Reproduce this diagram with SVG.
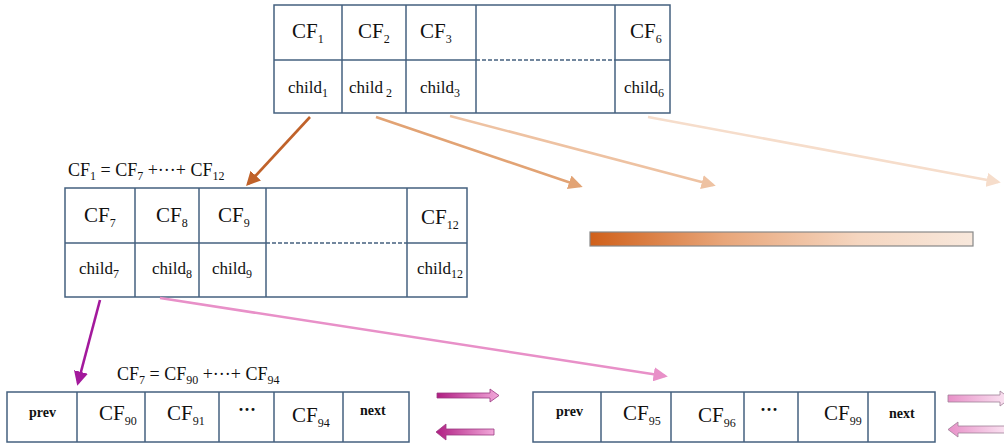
<svg xmlns="http://www.w3.org/2000/svg" width="1004" height="445" viewBox="0 0 1004 445">
<defs>
<style>
.cell{fill:#fff;stroke:#44607f;stroke-width:1.5}
.ln{stroke:#44607f;stroke-width:1.5}
.dash{stroke:#44607f;stroke-width:1.3;stroke-dasharray:4 2}
.cf{font-family:"Liberation Serif",serif;font-size:21px;fill:#111}
.ch{font-family:"Liberation Serif",serif;font-size:17px;fill:#111}
.b{font-family:"Liberation Serif",serif;font-size:14px;font-weight:bold;fill:#111}
.dots{font-family:"Liberation Serif",serif;font-size:18px;font-weight:bold;fill:#111}
.eq{font-family:"Liberation Serif",serif;font-size:18px;fill:#111}
.sub{font-size:12px}
</style>
<marker id="m1" viewBox="0 0 10 10" refX="8" refY="5" markerWidth="5.5" markerHeight="5.5" orient="auto"><path d="M0,0 L10,5 L0,10 z" fill="#c0622a"/></marker>
<marker id="m2" viewBox="0 0 10 10" refX="8" refY="5" markerWidth="5.5" markerHeight="5.5" orient="auto"><path d="M0,0 L10,5 L0,10 z" fill="#e2a374"/></marker>
<marker id="m3" viewBox="0 0 10 10" refX="8" refY="5" markerWidth="5.5" markerHeight="5.5" orient="auto"><path d="M0,0 L10,5 L0,10 z" fill="#eec2a2"/></marker>
<marker id="m4" viewBox="0 0 10 10" refX="8" refY="5" markerWidth="5.5" markerHeight="5.5" orient="auto"><path d="M0,0 L10,5 L0,10 z" fill="#f6ddcb"/></marker>
<marker id="m5" viewBox="0 0 10 10" refX="8" refY="5" markerWidth="5.5" markerHeight="5.5" orient="auto"><path d="M0,0 L10,5 L0,10 z" fill="#a3199c"/></marker>
<marker id="m6" viewBox="0 0 10 10" refX="8" refY="5" markerWidth="5.5" markerHeight="5.5" orient="auto"><path d="M0,0 L10,5 L0,10 z" fill="#e890c8"/></marker>
<linearGradient id="bar" x1="0" y1="0" x2="1" y2="0">
<stop offset="0" stop-color="#d0601a"/>
<stop offset="0.35" stop-color="#e8a67a"/>
<stop offset="0.7" stop-color="#f5d6c0"/>
<stop offset="1" stop-color="#f8e8dc"/>
</linearGradient>
<linearGradient id="pR" x1="0" y1="0" x2="1" y2="0">
<stop offset="0" stop-color="#b01e82"/>
<stop offset="1" stop-color="#f2a8da"/>
</linearGradient>
<linearGradient id="pL" x1="0" y1="0" x2="1" y2="0">
<stop offset="0" stop-color="#b01e82"/>
<stop offset="1" stop-color="#f2a8da"/>
</linearGradient>
<linearGradient id="qR" x1="0" y1="0" x2="1" y2="0">
<stop offset="0" stop-color="#e890c8"/>
<stop offset="1" stop-color="#fbe8f4"/>
</linearGradient>
<linearGradient id="qL" x1="0" y1="0" x2="1" y2="0">
<stop offset="0" stop-color="#e890c8"/>
<stop offset="1" stop-color="#fbe8f4"/>
</linearGradient>
</defs>

<g id="top-table">
<rect class="cell" x="274" y="5" width="396" height="108"/>
<line class="ln" x1="274" y1="60" x2="476" y2="60"/>
<line class="dash" x1="476" y1="60" x2="615" y2="60"/>
<line class="ln" x1="615" y1="60" x2="670" y2="60"/>
<line class="ln" x1="342" y1="5" x2="342" y2="113"/>
<line class="ln" x1="406" y1="5" x2="406" y2="113"/>
<line class="ln" x1="476" y1="5" x2="476" y2="113"/>
<line class="ln" x1="615" y1="5" x2="615" y2="113"/>
<text class="cf" x="292" y="38">CF<tspan class="sub" dy="5">1</tspan></text>
<text class="cf" x="358" y="38">CF<tspan class="sub" dy="5">2</tspan></text>
<text class="cf" x="420" y="38">CF<tspan class="sub" dy="5">3</tspan></text>
<text class="cf" x="630" y="38">CF<tspan class="sub" dy="5">6</tspan></text>
<text class="ch" x="288" y="93">child<tspan class="sub" dy="4">1</tspan></text>
<text class="ch" x="349" y="93">child<tspan class="sub" dy="4" dx="3">2</tspan></text>
<text class="ch" x="420" y="93">child<tspan class="sub" dy="4">3</tspan></text>
<text class="ch" x="624" y="93">child<tspan class="sub" dy="4">6</tspan></text>
</g>

<g id="mid-table">
<text class="eq" x="68" y="176">CF<tspan class="sub" dy="4">1</tspan><tspan dy="-4"> = CF</tspan><tspan class="sub" dy="4">7</tspan><tspan dy="-4"> +···+ CF</tspan><tspan class="sub" dy="4">12</tspan></text>
<rect class="cell" x="65" y="188" width="402" height="109"/>
<line class="ln" x1="65" y1="243" x2="266" y2="243"/>
<line class="dash" x1="266" y1="243" x2="407" y2="243"/>
<line class="ln" x1="407" y1="243" x2="467" y2="243"/>
<line class="ln" x1="135" y1="188" x2="135" y2="297"/>
<line class="ln" x1="199" y1="188" x2="199" y2="297"/>
<line class="ln" x1="266" y1="188" x2="266" y2="297"/>
<line class="ln" x1="407" y1="188" x2="407" y2="297"/>
<text class="cf" x="84" y="222">CF<tspan class="sub" dy="5">7</tspan></text>
<text class="cf" x="156" y="222">CF<tspan class="sub" dy="5">8</tspan></text>
<text class="cf" x="218" y="222">CF<tspan class="sub" dy="5">9</tspan></text>
<text class="cf" x="421" y="224">CF<tspan class="sub" dy="5">12</tspan></text>
<text class="ch" x="79" y="274">child<tspan class="sub" dy="4">7</tspan></text>
<text class="ch" x="152" y="274">child<tspan class="sub" dy="4">8</tspan></text>
<text class="ch" x="212" y="274">child<tspan class="sub" dy="4">9</tspan></text>
<text class="ch" x="417" y="274">child<tspan class="sub" dy="4">12</tspan></text>
</g>

<g id="gradient-bar">
<rect x="590" y="232" width="383" height="14" fill="url(#bar)" stroke="#888" stroke-width="1.2"/>
</g>

<g id="list-left">
<text class="eq" x="117" y="380">CF<tspan class="sub" dy="4">7</tspan><tspan dy="-4"> = CF</tspan><tspan class="sub" dy="4">90</tspan><tspan dy="-4"> +···+ CF</tspan><tspan class="sub" dy="4">94</tspan></text>
<rect class="cell" x="7" y="392" width="402" height="50"/>
<line class="ln" x1="77" y1="392" x2="77" y2="442"/>
<line class="ln" x1="145" y1="392" x2="145" y2="442"/>
<line class="ln" x1="219" y1="392" x2="219" y2="442"/>
<line class="ln" x1="274" y1="392" x2="274" y2="442"/>
<line class="ln" x1="343" y1="392" x2="343" y2="442"/>
<text class="b" x="29" y="417">prev</text>
<text class="cf" x="99" y="420">CF<tspan class="sub" dy="5">90</tspan></text>
<text class="cf" x="167" y="420">CF<tspan class="sub" dy="5">91</tspan></text>
<text class="dots" x="238" y="416">···</text>
<text class="cf" x="292" y="422">CF<tspan class="sub" dy="5">94</tspan></text>
<text class="b" x="360" y="415">next</text>
</g>

<g id="list-right">
<rect class="cell" x="533" y="392" width="402" height="50"/>
<line class="ln" x1="601" y1="392" x2="601" y2="442"/>
<line class="ln" x1="671" y1="392" x2="671" y2="442"/>
<line class="ln" x1="744" y1="392" x2="744" y2="442"/>
<line class="ln" x1="798" y1="392" x2="798" y2="442"/>
<line class="ln" x1="868" y1="392" x2="868" y2="442"/>
<text class="b" x="556" y="416">prev</text>
<text class="cf" x="623" y="420">CF<tspan class="sub" dy="5">95</tspan></text>
<text class="cf" x="698" y="422">CF<tspan class="sub" dy="5">96</tspan></text>
<text class="dots" x="760" y="416">···</text>
<text class="cf" x="824" y="420">CF<tspan class="sub" dy="5">99</tspan></text>
<text class="b" x="889" y="418">next</text>
</g>

<g id="link-arrows">
<polygon points="437,393 490,393 490,389 499,395.5 490,402 490,398 437,398" fill="url(#pR)" stroke="#9a3a80" stroke-width="0.8"/>
<polygon points="436,432 446,424 446,429 494,429 494,435 446,435 446,440" fill="url(#pL)" stroke="#9a3a80" stroke-width="0.8"/>
<polygon points="948,395 1000,395 1000,391 1010,398.5 1000,406 1000,402 948,402" fill="url(#qR)" stroke="#a08098" stroke-width="0.8"/>
<polygon points="948,429.5 958,422 958,426 1010,426 1010,433 958,433 958,437" fill="url(#qL)" stroke="#a08098" stroke-width="0.8"/>
</g>

<g id="connectors" fill="none" stroke-width="2.6">
<line x1="310" y1="117" x2="248" y2="184" stroke="#c0622a" marker-end="url(#m1)"/>
<line x1="376" y1="117" x2="580" y2="186" stroke="#e2a374" marker-end="url(#m2)"/>
<line x1="450" y1="116" x2="713" y2="185" stroke="#eec2a2" marker-end="url(#m3)"/>
<line x1="648" y1="117" x2="998" y2="182" stroke="#f6ddcb" marker-end="url(#m4)"/>
<line x1="100" y1="300" x2="78" y2="383" stroke="#a3199c" marker-end="url(#m5)"/>
<line x1="160" y1="298" x2="665" y2="376" stroke="#e890c8" marker-end="url(#m6)"/>
</g>
</svg>
